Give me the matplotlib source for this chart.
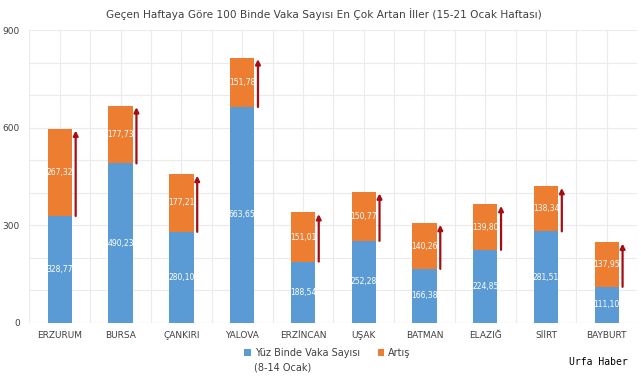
import matplotlib
matplotlib.use("Agg")
import matplotlib.pyplot as plt
import numpy as np

# data
iller = ["ERZURUM", "BURSA", "ÇANKIRI", "YALOVA", "ERZİNCAN",
         "UŞAK", "BATMAN", "ELAZIĞ", "SİİRT", "BAYBURT"]
onceki_hafta = [328.77, 490.23, 280.10, 663.65, 188.54,
                252.28, 166.38, 224.85, 281.51, 111.10]
artis = [267.32, 177.73, 177.21, 151.78, 151.01,
         150.77, 140.26, 139.80, 138.34, 137.95]

BLUE = "#5B9BD5"
ORANGE = "#ED7D31"
ARROW = "#A50D14"
GRAY_TXT = "#404040"

fig = plt.figure(figsize=(6.41, 3.8), dpi=100)
ax = fig.add_axes([0.046, 0.150, 0.948, 0.771])

x = np.arange(len(iller))
base = np.array(onceki_hafta)
inc = np.array(artis)
bw = 0.4

ax.bar(x, base, width=bw, color=BLUE, zorder=3, label="Yüz Binde Vaka Sayısı")
ax.bar(x, inc, width=bw, bottom=base, color=ORANGE, zorder=3, label="Artış")

for xi, b, d in zip(x, base, inc):
    ax.text(xi, b / 2, f"{b:.2f}".replace(".", ","), ha="center", va="center",
            color="white", fontsize=5.5, zorder=4)
    ax.text(xi, b + d / 2, f"{d:.2f}".replace(".", ","), ha="center", va="center",
            color="white", fontsize=5.5, zorder=4)
    # red growth arrow beside each bar
    ax.annotate("", xy=(xi + 0.26, b + d - 5), xytext=(xi + 0.26, b),
                arrowprops=dict(arrowstyle="-|>", color=ARROW, lw=1.6,
                                mutation_scale=7, shrinkA=0, shrinkB=0),
                zorder=5)

ax.set_xlim(-0.5, len(iller) - 0.5)
ax.set_ylim(0, 900)
ax.set_yticks([0, 300, 600, 900])
ax.set_yticks(np.arange(0, 901, 100), minor=True)
ax.set_xticks(x)
ax.set_xticks(np.arange(-0.5, len(iller), 0.5), minor=True)
ax.set_xticklabels(iller, fontsize=6.5, color=GRAY_TXT)
ax.tick_params(axis="y", labelsize=6.5, labelcolor=GRAY_TXT, length=0, which="both", pad=7)
ax.tick_params(axis="x", length=0, which="both", pad=6)
ax.grid(True, which="both", color="#EBEBEB", lw=0.8, zorder=0)
for s in ax.spines.values():
    s.set_visible(False)
ax.axhline(0, color="#D9D9D9", lw=0.8, zorder=2)

fig.text(0.505, 0.963, "Geçen Haftaya Göre 100 Binde Vaka Sayısı En Çok Artan İller (15-21 Ocak Haftası)",
         ha="center", va="center", fontsize=7.6, color=GRAY_TXT)

leg = fig.legend(loc="center", bbox_to_anchor=(0.511, 0.072), ncol=2, frameon=False,
                 fontsize=7, handlelength=0.7, handleheight=0.7, handletextpad=0.4,
                 columnspacing=1.8, labelcolor=GRAY_TXT)
fig.text(0.396, 0.032, "(8-14 Ocak)", ha="left", va="center", fontsize=7, color=GRAY_TXT)

fig.text(0.98, 0.047, "Urfa Haber", ha="right", va="center", fontsize=7,
         family="DejaVu Sans Mono", color="black")

fig.savefig("out.png", dpi=100, facecolor="white")
